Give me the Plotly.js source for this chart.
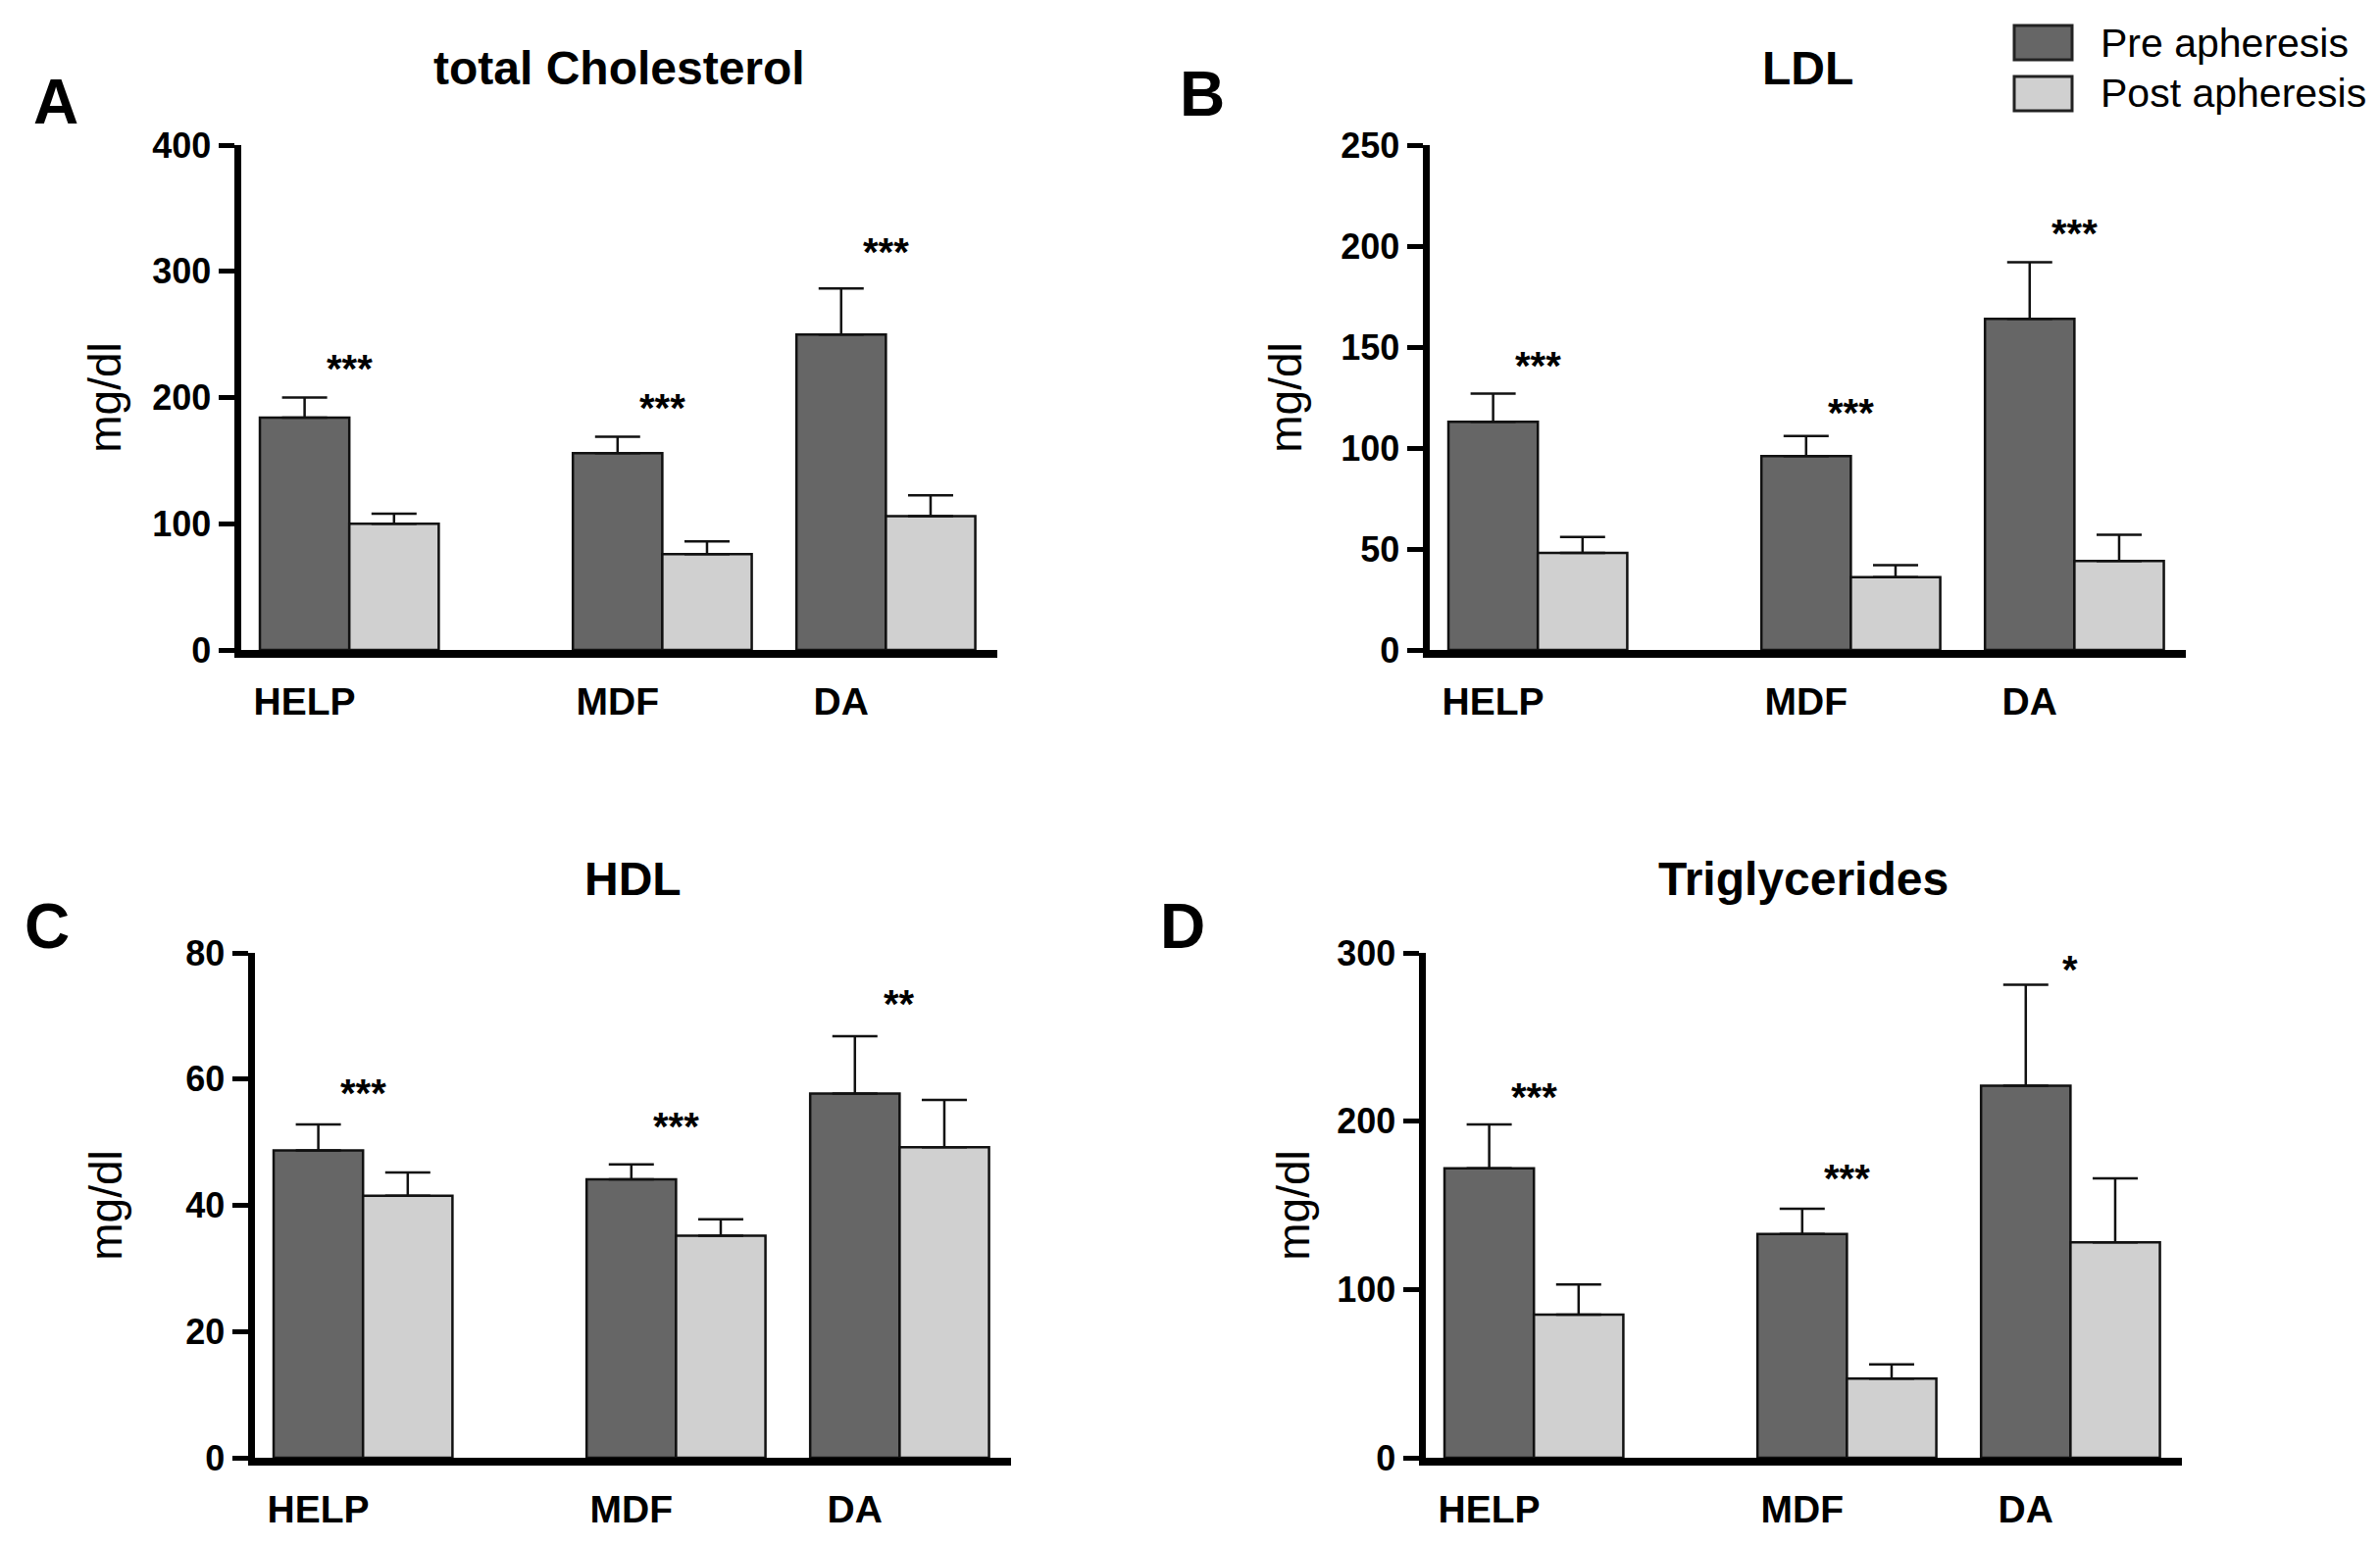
<!DOCTYPE html>
<html>
<head>
<meta charset="utf-8">
<script src="https://cdn.plot.ly/plotly-3.0.1.min.js"></script>
<style>
html,body{margin:0;padding:0;background:#ffffff;}
#chart{width:2427px;height:1576px;}
</style>
</head>
<body>
<div id="chart"></div>
<script>
// ---------------- DATA ----------------
const categories = ['HELP', 'MDF', 'DA'];
const seriesNames = ['Pre apheresis', 'Post apheresis'];
const panelTitles = ['total Cholesterol', 'LDL', 'HDL', 'Triglycerides'];
const panelLetters = ['A', 'B', 'C', 'D'];
const yAxisLabel = 'mg/dl';

const cholTicks = [0, 100, 200, 300, 400];
const ldlTicks = [0, 50, 100, 150, 200, 250];
const hdlTicks = [0, 20, 40, 60, 80];
const trigTicks = [0, 100, 200, 300];

const cholPre = [184, 156, 250];
const cholPreErr = [16, 13, 36.5];
const cholPost = [100, 76, 106];
const cholPostErr = [8, 10, 16.5];
const cholStars = ['***', '***', '***'];
const cholStarY = [225, 194, 318];

const ldlPre = [113, 96, 164];
const ldlPreErr = [14, 10, 28];
const ldlPost = [48, 36, 44];
const ldlPostErr = [8, 6, 13];
const ldlStars = ['***', '***', '***'];
const ldlStarY = [142, 119, 208];

const hdlPre = [48.7, 44.1, 57.7];
const hdlPreErr = [4.1, 2.4, 9.1];
const hdlPost = [41.5, 35.2, 49.2];
const hdlPostErr = [3.7, 2.6, 7.5];
const hdlStars = ['***', '***', '**'];
const hdlStarY = [58.2, 52.9, 72.4];

const trigPre = [172, 133, 221];
const trigPreErr = [26, 15, 60];
const trigPost = [85, 47, 128];
const trigPostErr = [18, 8.5, 38];
const trigStars = ['***', '***', '*'];
const trigStarY = [216, 168, 291.7];

// ---------------- LAYOUT / STYLE ----------------
const W = 2427, H = 1576;
const fx = v => v / W;
const fy = v => 1 - v / H;
const FONT = '"Liberation Sans", Arial, Helvetica, sans-serif';
const PRE_COLOR = '#666666';
const POST_COLOR = '#d0d0d0';

// group centres on the category axis (uneven spacing as in the figure)
const groupCenters = [1, 4.5, 7];
const tickCenters = groupCenters.map(c => c - 0.5);
const xRange = [-0.214, 8.246];

const panels = [
  {pre: cholPre, preErr: cholPreErr, post: cholPost, postErr: cholPostErr, stars: cholStars, starY: cholStarY,
   ticks: cholTicks, box: {l: 245.5, r: 1017, t: 148, b: 663}, titleY: 70, letter: {x: 57, y: 104}, standoff: 20},
  {pre: ldlPre, preErr: ldlPreErr, post: ldlPost, postErr: ldlPostErr, stars: ldlStars, starY: ldlStarY,
   ticks: ldlTicks, box: {l: 1457.5, r: 2229, t: 148, b: 663}, titleY: 70, letter: {x: 1226, y: 96}, standoff: 28},
  {pre: hdlPre, preErr: hdlPreErr, post: hdlPost, postErr: hdlPostErr, stars: hdlStars, starY: hdlStarY,
   ticks: hdlTicks, box: {l: 259.5, r: 1031, t: 972, b: 1487}, titleY: 896, letter: {x: 48, y: 945}, standoff: 53},
  {pre: trigPre, preErr: trigPreErr, post: trigPost, postErr: trigPostErr, stars: trigStars, starY: trigStarY,
   ticks: trigTicks, box: {l: 1453.5, r: 2225, t: 972, b: 1487}, titleY: 896, letter: {x: 1206, y: 945}, standoff: 16}
];

const traces = [];
const layout = {
  width: W, height: H,
  margin: {l: 0, r: 0, t: 0, b: 0, pad: 0},
  paper_bgcolor: '#ffffff',
  plot_bgcolor: 'rgba(0,0,0,0)',
  showlegend: false,
  barmode: 'overlay',
  font: {family: FONT, color: '#000000'},
  annotations: [],
  shapes: []
};

panels.forEach((p, i) => {
  const n = i + 1;
  const xa = n === 1 ? 'x' : 'x' + n;
  const ya = n === 1 ? 'y' : 'y' + n;
  const xKey = n === 1 ? 'xaxis' : 'xaxis' + n;
  const yKey = n === 1 ? 'yaxis' : 'yaxis' + n;
  const ymax = p.ticks[p.ticks.length - 1];

  traces.push({
    type: 'bar', name: seriesNames[0], x: groupCenters, y: p.pre,
    offset: -1, width: 1, xaxis: xa, yaxis: ya,
    marker: {color: PRE_COLOR, line: {color: '#111111', width: 2.5}},
    error_y: {type: 'data', array: p.preErr, arrayminus: p.pre.map(() => 0), symmetric: false,
              color: '#111111', thickness: 2.5, width: 23},
    hoverinfo: 'y', showlegend: false
  });
  traces.push({
    type: 'bar', name: seriesNames[1], x: groupCenters, y: p.post,
    offset: 0, width: 1, xaxis: xa, yaxis: ya,
    marker: {color: POST_COLOR, line: {color: '#111111', width: 2.5}},
    error_y: {type: 'data', array: p.postErr, arrayminus: p.post.map(() => 0), symmetric: false,
              color: '#111111', thickness: 2.5, width: 23},
    hoverinfo: 'y', showlegend: false
  });

  layout[xKey] = {
    domain: [fx(p.box.l), fx(p.box.r)],
    anchor: ya,
    range: xRange,
    fixedrange: true,
    showgrid: false, zeroline: false,
    showline: true, linecolor: '#000000', linewidth: 8,
    ticks: '',
    tickmode: 'array', tickvals: tickCenters, ticktext: categories,
    ticklabelstandoff: 11,
    tickfont: {family: FONT, size: 39, color: '#000000', weight: 'bold'}
  };
  layout[yKey] = {
    domain: [fy(p.box.b), fy(p.box.t)],
    anchor: xa,
    range: [0, ymax],
    fixedrange: true,
    showgrid: false, zeroline: false,
    showline: true, linecolor: '#000000', linewidth: 7,
    ticks: 'outside', ticklen: 16, tickwidth: 5, tickcolor: '#000000',
    tickmode: 'array', tickvals: p.ticks, ticktext: p.ticks.map(String),
    ticklabelstandoff: 0,
    tickfont: {family: FONT, size: 36, color: '#000000', weight: 'bold'},
    title: {text: yAxisLabel, standoff: p.standoff, font: {family: FONT, size: 46, color: '#000000'}}
  };

  // panel title
  layout.annotations.push({
    xref: 'paper', yref: 'paper', x: fx((p.box.l + p.box.r) / 2), y: fy(p.titleY),
    xanchor: 'center', yanchor: 'middle', showarrow: false,
    text: panelTitles[i], font: {family: FONT, size: 48, color: '#000000', weight: 'bold'}
  });
  // panel letter
  layout.annotations.push({
    xref: 'paper', yref: 'paper', x: fx(p.letter.x), y: fy(p.letter.y),
    xanchor: 'center', yanchor: 'middle', showarrow: false,
    text: panelLetters[i], font: {family: FONT, size: 64, color: '#000000', weight: 'bold'}
  });
  // significance stars
  p.stars.forEach((s, k) => {
    layout.annotations.push({
      xref: xa, yref: ya, x: groupCenters[k], y: p.starY[k],
      xanchor: 'center', yanchor: 'middle', showarrow: false, yshift: -3,
      text: s, font: {family: FONT, size: 40, color: '#000000', weight: 'bold'}
    });
  });
});

// legend (large swatches as in the figure)
const legendRows = [
  {name: seriesNames[0], color: PRE_COLOR, y0: 26, y1: 61},
  {name: seriesNames[1], color: POST_COLOR, y0: 78, y1: 113}
];
legendRows.forEach(r => {
  layout.shapes.push({
    type: 'rect', xref: 'paper', yref: 'paper',
    x0: fx(2054), x1: fx(2113), y0: fy(r.y1), y1: fy(r.y0),
    fillcolor: r.color, line: {color: '#222222', width: 3}
  });
  layout.annotations.push({
    xref: 'paper', yref: 'paper', x: fx(2140), y: fy((r.y0 + r.y1) / 2),
    xanchor: 'left', yanchor: 'middle', showarrow: false,
    text: r.name, font: {family: FONT, size: 41, color: '#000000'}
  });
});

Plotly.newPlot('chart', traces, layout, {staticPlot: true, displayModeBar: false});
</script>
</body>
</html>
